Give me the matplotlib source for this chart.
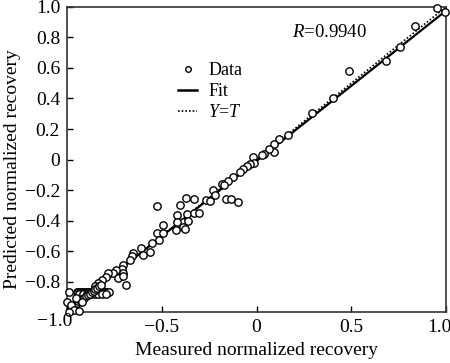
import matplotlib
matplotlib.use("Agg")
import matplotlib.pyplot as plt
import numpy as np
from matplotlib.lines import Line2D
from matplotlib.transforms import ScaledTranslation

plt.rcParams["font.family"] = ["Liberation Serif", "DejaVu Serif"]
plt.rcParams["mathtext.fontset"] = "custom"
plt.rcParams["mathtext.it"] = "Liberation Serif:italic"
plt.rcParams["mathtext.rm"] = "Liberation Serif"

# measured vs predicted normalized recovery
measured = [
    0.953, 0.995, 0.838, 0.757, 0.685, 0.490, 0.402, 0.293, 0.165, 0.117,
    0.094, 0.094, 0.065, 0.041, 0.030, -0.017, -0.012, -0.034, -0.052, -0.070,
    -0.087, -0.122, -0.149, -0.184, -0.170, -0.231, -0.219, -0.266, -0.245, -0.161,
    -0.136, -0.099, -0.372, -0.330, -0.527, -0.404, -0.421, -0.368, -0.330, -0.302,
    -0.390, -0.421, -0.360, -0.386, -0.425, -0.377, -0.492, -0.527, -0.492, -0.513,
    -0.553, -0.562, -0.611, -0.601, -0.650, -0.659, -0.668, -0.703, -0.711, -0.740,
    -0.756, -0.703, -0.729, -0.705, -0.687, -0.782, -0.794, -0.817, -0.838, -0.850,
    -0.950, -0.940, -0.930, -0.920, -0.910, -0.900, -0.890, -0.880, -0.870, -0.860,
    -0.850, -0.840, -0.830, -0.820, -0.810, -0.800, -0.790, -0.780,
    -0.935, -0.915, -0.895, -0.875, -0.855, -0.835, -0.815, -0.795,
    -0.960, -0.950, -0.940, -0.930, -0.920, -0.910, -0.900, -0.890, -0.880, -0.870,
    -0.860, -0.850, -0.840, -0.830, -0.820,
    -0.990, -0.998, -0.980, -0.963, -0.937, -0.953, -0.922, -0.990,
]
predicted = [
    0.993, 0.967, 0.877, 0.740, 0.645, 0.577, 0.400, 0.302, 0.161, 0.136,
    0.105, 0.051, 0.070, 0.036, 0.030, 0.014, -0.025, -0.031, -0.043, -0.060,
    -0.080, -0.115, -0.141, -0.160, -0.165, -0.200, -0.233, -0.266, -0.270, -0.256,
    -0.256, -0.277, -0.254, -0.261, -0.305, -0.298, -0.364, -0.355, -0.353, -0.353,
    -0.408, -0.408, -0.400, -0.441, -0.462, -0.455, -0.430, -0.480, -0.484, -0.528,
    -0.550, -0.604, -0.582, -0.626, -0.611, -0.633, -0.659, -0.692, -0.720, -0.726,
    -0.746, -0.742, -0.779, -0.760, -0.823, -0.742, -0.769, -0.790, -0.810, -0.830,
    -0.866, -0.866, -0.866, -0.866, -0.866, -0.866, -0.866, -0.866, -0.866, -0.866,
    -0.866, -0.866, -0.866, -0.866, -0.866, -0.866, -0.866, -0.866,
    -0.880, -0.880, -0.880, -0.880, -0.880, -0.880, -0.880, -0.880,
    -0.950, -0.940, -0.930, -0.922, -0.912, -0.905, -0.895, -0.888, -0.878, -0.868,
    -0.858, -0.850, -0.840, -0.830, -0.822,
    -0.870, -0.932, -0.954, -0.987, -0.990, -0.910, -0.932, -1.000,
]

fit_slope = 0.985
fit_intercept = -0.01
r_value = 0.9940

xticks = [-1.0, -0.5, 0, 0.5, 1.0]
xticklabels = ["", "\u22120.5", "0", "0.5", "1.0"]
yticks = [1.0, 0.8, 0.6, 0.4, 0.2, 0, -0.2, -0.4, -0.6, -0.8, -1.0]
yticklabels = ["1.0", "0.8", "0.6", "0.4", "0.2", "0", "\u22120.2", "\u22120.4",
               "\u22120.6", "\u22120.8", ""]
corner_label = "\u22121.0"

fig = plt.figure(figsize=(4.5, 3.63), dpi=100)
ax = fig.add_axes([0.149, 0.140, 0.842, 0.841])

line_x = np.array([-1.0, 1.0])
ax.plot(line_x, line_x, color="black", lw=1.2, ls=(0, (1, 1.2)), zorder=2)
ax.plot(line_x, fit_slope * line_x + fit_intercept, color="black", lw=1.6, zorder=3)
ax.plot(measured, predicted, "o", mfc="white", mec="black", mew=1.0, ms=5.3,
        clip_on=False, zorder=4)

ax.set_xlim(-1, 1)
ax.set_ylim(-1, 1)
ax.set_xticks(xticks)
ax.set_xticklabels(xticklabels)
ax.set_yticks(yticks)
ax.set_yticklabels(yticklabels)
ax.tick_params(direction="in", length=4, width=1, labelsize=14, pad=5)
for s in ax.spines.values():
    s.set_linewidth(1.2)
    s.set_color("#333333")

# last x label sits flush with the right edge
last = ax.get_xticklabels()[-1]
last.set_horizontalalignment("right")
last.set_transform(last.get_transform() + ScaledTranslation(4 / 72, 0, fig.dpi_scale_trans))

fig.text(55 / 450, 1 - 322 / 363, corner_label, fontsize=14, ha="center", va="center")

ax.set_xlabel("Measured normalized recovery", fontsize=14, labelpad=4)
ax.set_ylabel("Predicted normalized recovery", fontsize=14)
ax.yaxis.set_label_coords(-0.122, 0.47)

ax.text(0.595, 0.915, "$R$=%.4f" % r_value, transform=ax.transAxes, fontsize=13.5,
        va="center", ha="left")

handles = [
    Line2D([], [], ls="none", marker="o", mfc="white", mec="black", mew=1.0, ms=4),
    Line2D([], [], color="black", lw=1.8),
    Line2D([], [], color="black", lw=1.2, ls=(0, (1, 1.2))),
]
ax.legend(handles, ["Data", "Fit", "$Y$=$T$"], loc="upper left",
          bbox_to_anchor=(0.268, 0.848), frameon=False, fontsize=13,
          handlelength=1.1, handletextpad=0.6, labelspacing=0.22, borderpad=0)

fig.savefig("out.png", dpi=100)
